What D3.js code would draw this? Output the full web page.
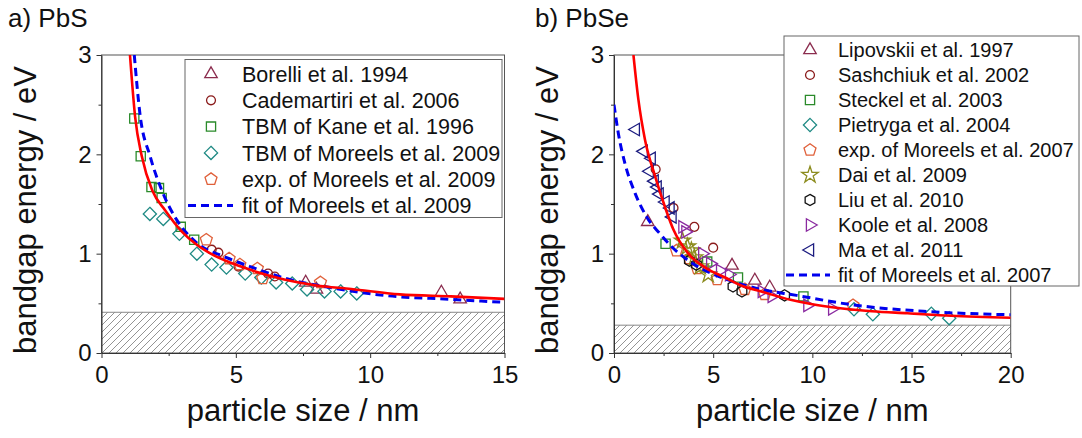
<!DOCTYPE html>
<html>
<head>
<meta charset="utf-8">
<script src="https://cdn.jsdelivr.net/npm/d3@7"></script>
<style>
  body { margin: 0; background: #fff; }
  text { font-family: "Liberation Sans", Arial, sans-serif; fill: #111; }
</style>
</head>
<body>
<svg id="fig" width="1082" height="438"></svg>
<script>
// ---- data: [particle size nm, bandgap eV] ----

// a) PbS
const pbsBorelli = [[7.6, 0.71], [8.0, 0.64], [12.65, 0.61], [13.35, 0.54]]
const pbsCademartiri = [[4.1, 1.04], [4.35, 1.01], [5.1, 0.87], [6.2, 0.80], [6.45, 0.77]]
const pbsKane = [[1.22, 2.36], [1.46, 1.98], [1.86, 1.67], [2.14, 1.66], [2.24, 1.56], [2.95, 1.27], [3.45, 1.14]]
const pbsMoreelsTBM = [[1.8, 1.40], [2.3, 1.35], [2.9, 1.20], [3.55, 1.00], [4.1, 0.89], [4.65, 0.86], [5.35, 0.80],
    [5.95, 0.76], [6.5, 0.71], [7.1, 0.70], [7.65, 0.64], [8.3, 0.62], [8.9, 0.62], [9.5, 0.60]]
const pbsMoreelsExp = [[3.9, 1.14], [4.75, 0.95], [5.15, 0.89], [5.8, 0.85], [6.0, 0.75], [8.15, 0.71]]
const pbsFitRed = [[1.06, 3.0], [1.25, 2.38], [1.5, 1.98], [1.9, 1.63], [2.36, 1.44], [3.0, 1.22], [3.5, 1.10],
    [4.0, 1.01], [5.3, 0.86], [6.8, 0.74], [8.0, 0.68], [9.3, 0.645], [11.1, 0.59], [13.0, 0.57], [15.0, 0.545]]
const pbsFitBlue = [[1.22, 3.0], [1.43, 2.41], [1.81, 1.98], [2.24, 1.64], [2.8, 1.34], [3.5, 1.12], [4.66, 0.96],
    [5.53, 0.87], [7.0, 0.74], [8.5, 0.66], [10.5, 0.58], [13.0, 0.54], [15.0, 0.51]]
const pbsBulk = 0.41
const pbsLegend = ['Borelli et al. 1994', 'Cademartiri et al. 2006', 'TBM of Kane et al. 1996',
    'TBM of Moreels et al. 2009', 'exp. of Moreels et al. 2009', 'fit of Moreels et al. 2009']

// b) PbSe
const pbseLipovskii = [[1.7, 1.32], [5.95, 0.88], [7.1, 0.73], [7.85, 0.66]]
const pbseSashchiuk = [[2.1, 1.85], [3.0, 1.46], [4.05, 1.27], [5.0, 1.06]]
const pbseSteckel = [[2.6, 1.10], [4.7, 0.92], [6.25, 0.76], [9.55, 0.57]]
const pbsePietryga = [[12.1, 0.44], [13.05, 0.39], [16.0, 0.395], [16.9, 0.35]]
const pbseMoreelsExp = [[3.15, 1.03], [3.8, 0.95], [4.2, 0.85], [5.2, 0.74], [6.6, 0.64], [7.6, 0.59], [12.05, 0.48]]
const pbseDai = [[3.45, 1.13], [3.7, 1.07], [3.9, 1.03], [4.05, 0.96], [4.35, 0.87], [4.75, 0.79]]
const pbseLiu = [[3.8, 0.93], [4.15, 0.89], [6.0, 0.67], [6.45, 0.62], [8.6, 0.58]]
const pbseKoole = [[3.45, 1.27], [3.6, 1.22], [4.45, 1.0], [4.85, 0.90], [5.35, 0.83], [5.8, 0.79], [7.45, 0.62],
    [7.95, 0.57], [9.75, 0.48], [11.0, 0.445]]
const pbseMa = [[1.1, 2.25], [1.5, 2.03], [1.9, 1.96], [1.8, 1.83], [2.05, 1.73], [2.2, 1.67], [2.3, 1.60],
    [2.6, 1.52], [2.85, 1.46], [2.95, 1.37]]
const pbseFitRed = [[0.98, 3.0], [1.23, 2.55], [1.56, 2.15], [2.07, 1.78], [2.57, 1.47], [3.0, 1.24], [3.75, 1.0],
    [4.6, 0.86], [5.6, 0.76], [6.35, 0.685], [7.5, 0.615], [8.9, 0.535], [10.0, 0.49], [11.4, 0.45], [13.0, 0.42],
    [14.8, 0.40], [17.0, 0.375], [20.0, 0.355]]
const pbseFitBlue = [[0, 2.5], [0.22, 2.21], [0.55, 1.91], [1.06, 1.61], [1.65, 1.37], [2.32, 1.20], [2.91, 1.07],
    [3.75, 0.93], [4.4, 0.85], [5.3, 0.77], [7.2, 0.65], [9.2, 0.58], [12.2, 0.48], [15.6, 0.42], [20, 0.385]]
const pbseBulk = 0.28
const pbseLegend = ['Lipovskii et al. 1997', 'Sashchiuk et al. 2002', 'Steckel et al. 2003', 'Pietryga et al. 2004',
    'exp. of Moreels et al. 2007', 'Dai et al. 2009', 'Liu et al. 2010', 'Koole et al. 2008', 'Ma et al. 2011',
    'fit of Moreels et al. 2007']

// ticks
const yTicks = [0, 1, 2, 3]
const yMinor = [0.5, 1.5, 2.5]
const pbsXTicks = [0, 5, 10, 15]
const pbsXMinor = [2.5, 7.5, 12.5]
const pbseXTicks = [0, 5, 10, 15, 20]
const pbseXMinor = [2.5, 7.5, 12.5, 17.5]


// ---- drawing ----
const svg = d3.select('#fig')
const defs = svg.append('defs')

defs.append('pattern').attr('id', 'hatch').attr('patternUnits', 'userSpaceOnUse')
    .attr('width', 7).attr('height', 7)
    .append('path').attr('d', 'M0,7L7,0M-1,1L1,-1M6,8L8,6')
    .attr('stroke', '#777').attr('stroke-width', 0.8)

function poly(n, startDeg, r) {
    let pts = d3.range(n).map(i => {
        let a = (startDeg + i * 360 / n) * Math.PI / 180
        return [r * Math.cos(a), r * Math.sin(a)]
    })
    return 'M' + pts.map(p => p.join(',')).join('L') + 'Z'
}

const shapes = {
    triUp: poly(3, -90, 7.2),
    triRight: poly(3, 0, 7.2),
    triLeft: poly(3, 180, 7.2),
    square: 'M-4.6,-4.6h9.2v9.2h-9.2Z',
    diamond: poly(4, -90, 6.6),
    pentagon: poly(5, -90, 6.3),
    hexagon: poly(6, -90, 5.6),
    circle: d3.symbol(d3.symbolCircle, 62)(),
    star: d3.symbol(d3.symbolStar, 85)()
}

/** Draws one panel: hatch, frame, axes, points, fits and legend */
function panel(o) {
    let g = svg.append('g')
    let x = d3.scaleLinear().domain(o.xDomain).range([o.left, o.right])
    let y = d3.scaleLinear().domain([0, 3]).range([o.bottom, o.top])

    defs.append('clipPath').attr('id', o.id + 'clip')
        .append('rect').attr('x', o.left).attr('y', o.top)
        .attr('width', o.right - o.left).attr('height', o.bottom - o.top)

    // bulk gap region
    g.append('rect')
        .attr('x', x(o.xDomain[0])).attr('y', y(o.bulk))
        .attr('width', x(o.xDomain[1]) - x(o.xDomain[0])).attr('height', y(0) - y(o.bulk))
        .attr('fill', 'url(#hatch)')
    g.append('line')
        .attr('x1', x(o.xDomain[0])).attr('x2', x(o.xDomain[1]))
        .attr('y1', y(o.bulk)).attr('y2', y(o.bulk))
        .attr('stroke', '#888').attr('stroke-width', 1)

    // frame
    g.append('rect').attr('x', o.left).attr('y', o.top)
        .attr('width', o.right - o.left).attr('height', o.bottom - o.top)
        .attr('fill', 'none').attr('stroke', '#555').attr('stroke-width', 1)

    // axes
    let fmt = d3.format('d')
    let xa = g.append('g').attr('transform', 'translate(0,' + o.bottom + ')')
        .call(d3.axisBottom(x).tickValues(o.xTicks).tickFormat(fmt).tickSize(5).tickPadding(8).tickSizeOuter(0))
    g.append('g').attr('transform', 'translate(0,' + o.bottom + ')')
        .call(d3.axisBottom(x).tickValues(o.xMinor).tickSize(3).tickFormat(''))
        .select('.domain').remove()
    let ya = g.append('g').attr('transform', 'translate(' + o.left + ',0)')
        .call(d3.axisLeft(y).tickValues(yTicks).tickFormat(fmt).tickSize(5).tickPadding(5).tickSizeOuter(0))
    g.append('g').attr('transform', 'translate(' + o.left + ',0)')
        .call(d3.axisLeft(y).tickValues(yMinor).tickSize(3).tickFormat(''))
        .select('.domain').remove()
    g.selectAll('.tick line, .domain').attr('stroke', '#333')
    xa.selectAll('text').attr('font-size', 24).attr('font-family', '"Liberation Sans", Arial, sans-serif').attr('fill', '#111')
    ya.selectAll('text').attr('font-size', 24).attr('font-family', '"Liberation Sans", Arial, sans-serif').attr('fill', '#111')

    // points
    o.series.forEach(s => {
        g.append('g').selectAll('path').data(s.data).enter().append('path')
            .attr('d', shapes[s.shape])
            .attr('transform', d => 'translate(' + x(d[0]) + ',' + y(d[1]) + ')')
            .attr('fill', 'none').attr('stroke', s.color).attr('stroke-width', 1.3)
    })

    // fits
    let line = d3.line().x(d => x(d[0])).y(d => y(d[1])).curve(d3.curveMonotoneX)
    let fits = g.append('g').attr('clip-path', 'url(#' + o.id + 'clip)')
    fits.append('path').attr('d', line(o.blue)).attr('fill', 'none')
        .attr('stroke', '#0000ee').attr('stroke-width', 3).attr('stroke-dasharray', '8,5')
    fits.append('path').attr('d', line(o.red)).attr('fill', 'none')
        .attr('stroke', '#ff0000').attr('stroke-width', 2.6)

    // legend
    let L = o.legend
    let lg = g.append('g')
    lg.append('rect').attr('x', L.box[0]).attr('y', L.box[1])
        .attr('width', L.box[2] - L.box[0]).attr('height', L.box[3] - L.box[1])
        .attr('fill', '#fff').attr('stroke', '#666').attr('stroke-width', 1)
    L.labels.forEach((lab, i) => {
        let ry = L.y0 + i * L.step
        let s = o.series[i]
        if (s) {
            lg.append('path').attr('d', shapes[s.shape])
                .attr('transform', 'translate(' + L.symX + ',' + ry + ')')
                .attr('fill', 'none').attr('stroke', s.color).attr('stroke-width', 1.3)
        } else {
            lg.append('line').attr('x1', L.dash[0]).attr('x2', L.dash[1]).attr('y1', ry).attr('y2', ry)
                .attr('stroke', '#0000ee').attr('stroke-width', 3).attr('stroke-dasharray', '8,5')
        }
        lg.append('text').attr('x', L.textX).attr('y', ry + L.font * 0.36)
            .attr('font-size', L.font).text(lab)
    })

    // labels
    g.append('text').attr('x', o.titleX).attr('y', 27).attr('font-size', 26).text(o.title)
    g.append('text').attr('x', (o.left + o.right) / 2).attr('y', 421)
        .attr('text-anchor', 'middle').attr('font-size', 31).text('particle size / nm')
    g.append('text').attr('transform', 'translate(' + o.yLabelX + ',210) rotate(-90)')
        .attr('text-anchor', 'middle').attr('font-size', 31).text('bandgap energy / eV')
}

panel({
    id: 'pbs', title: 'a) PbS', titleX: 8, yLabelX: 36,
    left: 101.5, right: 504.5, top: 55, bottom: 353,
    xDomain: [0, 15], xTicks: pbsXTicks, xMinor: pbsXMinor, bulk: pbsBulk,
    series: [
        { data: pbsBorelli, shape: 'triUp', color: '#8b2c4e' },
        { data: pbsCademartiri, shape: 'circle', color: '#8b1c1c' },
        { data: pbsKane, shape: 'square', color: '#2a8a2a' },
        { data: pbsMoreelsTBM, shape: 'diamond', color: '#1f8a84' },
        { data: pbsMoreelsExp, shape: 'pentagon', color: '#e0603a' }
    ],
    red: pbsFitRed, blue: pbsFitBlue,
    legend: { box: [185, 59.5, 502, 217.5], y0: 74, step: 26.3, symX: 211, textX: 242, dash: [188, 233], font: 21.5, labels: pbsLegend }
})

panel({
    id: 'pbse', title: 'b) PbSe', titleX: 535, yLabelX: 558,
    left: 614, right: 1010.7, top: 55, bottom: 353,
    xDomain: [0, 20], xTicks: pbseXTicks, xMinor: pbseXMinor, bulk: pbseBulk,
    series: [
        { data: pbseLipovskii, shape: 'triUp', color: '#8b2c4e' },
        { data: pbseSashchiuk, shape: 'circle', color: '#8b1c1c' },
        { data: pbseSteckel, shape: 'square', color: '#2a8a2a' },
        { data: pbsePietryga, shape: 'diamond', color: '#1f8a84' },
        { data: pbseMoreelsExp, shape: 'pentagon', color: '#e0603a' },
        { data: pbseDai, shape: 'star', color: '#8c8c1e' },
        { data: pbseLiu, shape: 'hexagon', color: '#111' },
        { data: pbseKoole, shape: 'triRight', color: '#8a2aa0' },
        { data: pbseMa, shape: 'triLeft', color: '#1c1c80' }
    ],
    red: pbseFitRed, blue: pbseFitBlue,
    legend: { box: [784, 36, 1079, 286], y0: 50, step: 25, symX: 810, textX: 838, dash: [786, 830], font: 20, labels: pbseLegend }
})
</script>
</body>
</html>
